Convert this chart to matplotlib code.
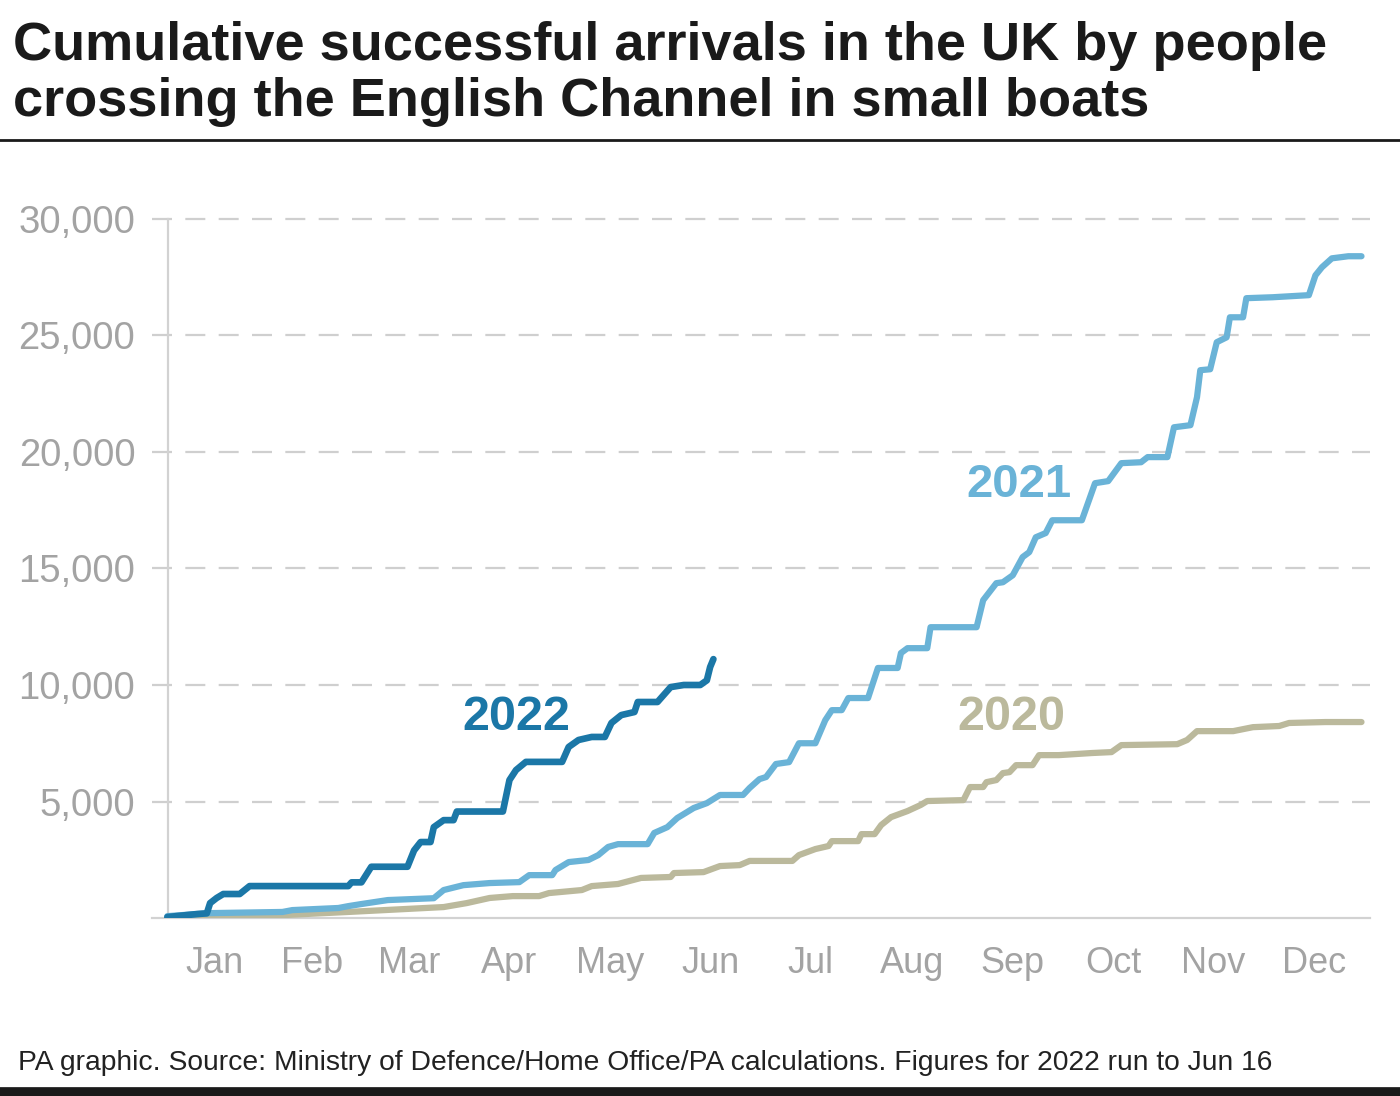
import matplotlib
matplotlib.use("Agg")
import matplotlib.pyplot as plt

# day of year, cumulative arrivals
days_2022 = [1, 10, 13, 14, 16, 18, 23, 26, 56, 57, 60, 63, 74, 76, 78, 81, 82, 85, 88, 89,
             103, 105, 107, 110, 121, 123, 126, 130, 134, 136, 139, 143, 144, 150, 154, 158,
             163, 165, 166, 167]
vals_2022 = [40, 170, 200, 640, 860, 1030, 1030, 1370, 1370, 1530, 1530, 2200, 2200, 2900,
             3260, 3260, 3900, 4200, 4200, 4570, 4570, 5920, 6350, 6700, 6700, 7340, 7640,
             7770, 7770, 8370, 8710, 8840, 9270, 9270, 9910, 10000, 10000, 10200, 10770, 11110]

days_2021 = [1, 14, 36, 39, 53, 56, 60, 68, 82, 85, 91, 99, 108, 111, 118, 119, 123, 129, 132,
             135, 138, 147, 149, 153, 156, 161, 165, 169, 176, 178, 181, 183, 186, 190, 193, 198,
             201, 203, 206, 208, 214, 217, 223, 224, 226, 232, 233, 247, 249, 253, 255, 258, 261,
             263, 265, 268, 270, 279, 283, 287, 291, 297, 299, 305, 307, 312, 314, 315, 318, 320,
             323, 324, 328, 329, 337, 348, 350, 352, 355, 360, 364]
vals_2021 = [80, 210, 260, 340, 430, 510, 600, 770, 850, 1200, 1410, 1500, 1540, 1840, 1840,
             2060, 2400, 2490, 2700, 3050, 3170, 3170, 3650, 3900, 4290, 4720, 4930, 5280, 5280,
             5580, 5960, 6050, 6610, 6690, 7500, 7500, 8490, 8920, 8920, 9440, 9440, 10730, 10730,
             11370, 11580, 11580, 12480, 12480, 13640, 14370, 14410, 14710, 15490, 15700, 16340,
             16520, 17070, 17070, 18660, 18750, 19520, 19560, 19780, 19780, 21060, 21150, 22350,
             23510, 23550, 24710, 24920, 25780, 25780, 26600, 26640, 26730, 27580, 27930, 28310,
             28400, 28400]

days_2020 = [1, 17, 37, 56, 85, 92, 99, 106, 114, 117, 127, 130, 138, 145, 154, 155, 164, 169,
             175, 178, 191, 193, 198, 202, 203, 211, 212, 216, 218, 221, 226, 230, 232, 243, 245,
             249, 250, 253, 255, 257, 259, 264, 266, 272, 282, 288, 291, 308, 311, 314, 325, 331,
             339, 342, 353, 364]
vals_2020 = [0, 0, 130, 260, 470, 640, 860, 940, 940, 1070, 1200, 1370, 1460, 1720, 1760, 1930,
             1970, 2230, 2270, 2450, 2450, 2700, 2960, 3090, 3300, 3300, 3600, 3600, 3990, 4330,
             4590, 4850, 5020, 5060, 5620, 5620, 5830, 5920, 6220, 6260, 6560, 6560, 6990, 6990,
             7080, 7120, 7420, 7460, 7640, 8020, 8020, 8190, 8240, 8370, 8410, 8410]

month_labels = ["Jan", "Feb", "Mar", "Apr", "May", "Jun", "Jul", "Aug", "Sep", "Oct", "Nov", "Dec"]
month_mid = [15.5, 45, 74.5, 105, 135.5, 166, 196.5, 227.5, 258, 288.5, 319, 349.5]
y_ticks = [5000, 10000, 15000, 20000, 25000, 30000]

c2022 = "#1b77a7"
c2021 = "#6ab3d7"
c2020 = "#bbb99c"
grey = "#a3a3a3"

plt.rcParams["font.family"] = ["Liberation Sans", "DejaVu Sans"]

fig = plt.figure(figsize=(14, 10.96), dpi=100)
ax = fig.add_axes([0.1086, 0.1624, 0.87, 0.6442])

ax.plot(days_2020, vals_2020, color=c2020, lw=4.5, solid_capstyle="round", solid_joinstyle="round", zorder=3)
ax.plot(days_2021, vals_2021, color=c2021, lw=4.5, solid_capstyle="round", solid_joinstyle="round", zorder=4)
ax.plot(days_2022, vals_2022, color=c2022, lw=4.8, solid_capstyle="round", solid_joinstyle="round", zorder=5)

ax.set_xlim(-3.65, 366.6)
ax.set_ylim(0, 30300)

for y in y_ticks:
    ax.axhline(y, color="#cfcfcf", lw=1.6, ls=(0, (9, 6)), zorder=1)
ax.axvline(1.2, ymin=0, ymax=30000 / 30300, color="#d2d2d2", lw=1.6, zorder=2)

for s in ["top", "right", "left"]:
    ax.spines[s].set_visible(False)
ax.spines["bottom"].set_color("#d2d2d2")
ax.spines["bottom"].set_linewidth(1.6)

ax.set_yticks(y_ticks)
ax.set_yticklabels([f"{v:,}" for v in y_ticks])
ax.set_xticks(month_mid)
ax.set_xticklabels(month_labels)
ax.tick_params(axis="both", length=0, labelsize=26, labelcolor=grey)
ax.tick_params(axis="y", pad=12, labelsize=27.5)
ax.tick_params(axis="x", pad=20)

ax.text(107, 8600, "2022", color=c2022, fontsize=35, fontweight="bold", ha="center", va="center")
ax.text(260, 18575, "2021", color=c2021, fontsize=34, fontweight="bold", ha="center", va="center")
ax.text(257.5, 8600, "2020", color=c2020, fontsize=35, fontweight="bold", ha="center", va="center")

fig.text(0.009, 0.945, "Cumulative successful arrivals in the UK by people", fontsize=39,
         fontweight="bold", color="#1a1a1a", va="baseline", ha="left")
fig.text(0.009, 0.894, "crossing the English Channel in small boats", fontsize=39,
         fontweight="bold", color="#1a1a1a", va="baseline", ha="left")
fig.add_artist(plt.Line2D([0, 1], [0.872, 0.872], color="#1a1a1a", lw=2, transform=fig.transFigure))

fig.text(0.013, 0.024, "PA graphic. Source: Ministry of Defence/Home Office/PA calculations. "
         "Figures for 2022 run to Jun 16", fontsize=20.3, color="#222222", va="baseline", ha="left")
fig.add_artist(plt.Line2D([0, 1], [0.004, 0.004], color="#1a1a1a", lw=7, transform=fig.transFigure))

fig.savefig("out.png", dpi=100, facecolor="white")
